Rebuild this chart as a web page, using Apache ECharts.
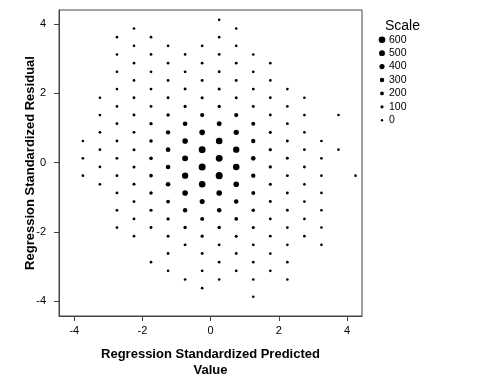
<!DOCTYPE html>
<html>
<head>
<meta charset="utf-8">
<script src="https://cdn.jsdelivr.net/npm/echarts@6/dist/echarts.min.js"></script>
<style>
  html, body { margin: 0; padding: 0; background: #fff; }
  #chart { width: 483px; height: 389px; }
</style>
</head>
<body>
<div id="chart"></div>
<script>
// Column centres of the binned predicted values
const columnPredicted = [-3.75, -3.25, -2.75, -2.25, -1.75, -1.25, -0.75, -0.25, 0.25, 0.75, 1.25, 1.75, 2.25, 2.75, 3.25, 3.75, 4.25];
// Residual bin centres in each column
const columnResiduals = [
  [0.625, 0.125, -0.375],
  [1.875, 1.375, 0.875, 0.375, -0.125, -0.625],
  [3.625, 3.125, 2.625, 2.125, 1.625, 1.125, 0.625, 0.125, -0.375, -0.875, -1.375, -1.875],
  [3.875, 3.375, 2.875, 2.375, 1.875, 1.375, 0.875, 0.375, -0.125, -0.625, -1.125, -1.625, -2.125],
  [3.625, 3.125, 2.625, 2.125, 1.625, 1.125, 0.625, 0.125, -0.375, -0.875, -1.375, -1.875, -2.875],
  [3.375, 2.875, 2.375, 1.875, 1.375, 0.875, 0.375, -0.125, -0.625, -1.125, -1.625, -2.125, -2.625, -3.125],
  [3.125, 2.625, 2.125, 1.625, 1.125, 0.625, 0.125, -0.375, -0.875, -1.375, -1.875, -2.375, -3.375],
  [3.375, 2.875, 2.375, 1.875, 1.375, 0.875, 0.375, -0.125, -0.625, -1.125, -1.625, -2.125, -2.625, -3.125, -3.625],
  [4.125, 3.625, 3.125, 2.625, 2.125, 1.625, 1.125, 0.625, 0.125, -0.375, -0.875, -1.375, -1.875, -2.375, -2.875, -3.375],
  [3.875, 3.375, 2.875, 2.375, 1.875, 1.375, 0.875, 0.375, -0.125, -0.625, -1.125, -1.625, -2.125, -2.625, -3.125],
  [3.125, 2.625, 2.125, 1.625, 1.125, 0.625, 0.125, -0.375, -0.875, -1.375, -1.875, -2.375, -2.875, -3.375, -3.875],
  [2.875, 2.375, 1.875, 1.375, 0.875, 0.375, -0.125, -0.625, -1.125, -1.625, -2.125, -2.625, -3.125],
  [2.125, 1.625, 1.125, 0.625, 0.125, -0.375, -0.875, -1.375, -1.875, -2.375, -2.875, -3.375],
  [1.875, 1.375, 0.875, 0.375, -0.125, -0.625, -1.125, -1.625, -2.125],
  [0.625, 0.125, -0.375, -0.875, -1.375, -1.875, -2.375],
  [1.375, 0.375],
  [-0.375]
];
// Case counts for each bin (same order as columnResiduals)
const columnCounts = [
  [30, 40, 40],
  [30, 40, 50, 50, 50, 40],
  [30, 30, 40, 40, 50, 60, 70, 70, 70, 60, 50, 40],
  [30, 30, 40, 50, 60, 70, 80, 90, 90, 80, 70, 60, 40],
  [40, 50, 50, 60, 70, 130, 170, 180, 180, 160, 110, 80, 40],
  [40, 50, 60, 80, 150, 280, 320, 320, 320, 200, 130, 70, 60, 40],
  [50, 60, 80, 110, 320, 460, 500, 560, 460, 280, 150, 80, 40],
  [50, 60, 80, 110, 250, 460, 640, 660, 600, 380, 220, 120, 70, 50, 40],
  [30, 40, 50, 70, 90, 130, 360, 600, 640, 660, 460, 300, 150, 80, 60, 40],
  [30, 40, 60, 70, 90, 250, 420, 560, 600, 460, 300, 180, 90, 60, 50],
  [40, 50, 70, 80, 220, 280, 320, 280, 220, 150, 100, 70, 50, 40, 30],
  [40, 50, 60, 70, 90, 120, 120, 100, 80, 70, 60, 50, 40],
  [40, 50, 60, 70, 80, 80, 70, 60, 50, 40, 40, 30],
  [40, 50, 50, 60, 60, 50, 50, 40, 40],
  [40, 40, 40, 40, 30, 30, 30],
  [30, 30],
  [30]
];
const xTickValues = [-4, -2, 0, 2, 4];
const yTickValues = [-4, -2, 0, 2, 4];
const legendValues = [600, 500, 400, 300, 200, 100, 0];

function dotSize(n) { return 2.4 + 4.2 * n / 600; }

const points = [];
columnPredicted.forEach(function (x, i) {
  columnResiduals[i].forEach(function (y, j) {
    points.push([x, y, columnCounts[i][j]]);
  });
});

const textBase = { fontFamily: 'Liberation Sans, Arial, sans-serif', color: '#000' };

const chart = echarts.init(document.getElementById('chart'), null, { renderer: 'canvas' });
chart.setOption({
  animation: false,
  backgroundColor: '#fff',
  title: {
    text: 'Scale', left: 380, top: 14,
    textStyle: Object.assign({}, textBase, { fontSize: 14, fontWeight: 'normal' })
  },
  grid: [
    { left: 59, top: 10, width: 303, height: 306, show: true, borderColor: '#444', borderWidth: 1, backgroundColor: 'transparent' },
    { left: 376, top: 33, width: 12, height: 94 }
  ],
  xAxis: [
    {
      gridIndex: 0, type: 'value', min: -4.45, max: 4.44,
      name: 'Regression Standardized Predicted\nValue', nameLocation: 'middle', nameGap: 30,
      nameMoveOverlap: false,
      nameTextStyle: Object.assign({}, textBase, { fontSize: 13, fontWeight: 'bold', lineHeight: 16 }),
      axisLine: { show: true, onZero: false, lineStyle: { color: '#444', width: 1 } },
      axisTick: { show: true, length: 5, customValues: xTickValues, lineStyle: { color: '#444' } },
      axisLabel: Object.assign({}, textBase, { fontSize: 11, margin: 9, customValues: xTickValues }),
      splitLine: { show: false }
    },
    {
      gridIndex: 1, type: 'value', min: 0, max: 1, show: false
    }
  ],
  yAxis: [
    {
      gridIndex: 0, type: 'value', min: -4.43, max: 4.41,
      name: 'Regression Standardized Residual', nameLocation: 'middle', nameGap: 22,
      nameMoveOverlap: false,
      nameTextStyle: Object.assign({}, textBase, { fontSize: 13, fontWeight: 'bold' }),
      axisLine: { show: true, onZero: false, lineStyle: { color: '#444', width: 1 } },
      axisTick: { show: true, length: 5, customValues: yTickValues, lineStyle: { color: '#444' } },
      axisLabel: Object.assign({}, textBase, { fontSize: 11, margin: 13, customValues: yTickValues }),
      splitLine: { show: false }
    },
    {
      gridIndex: 1, type: 'category', inverse: true, position: 'right',
      data: legendValues.map(String),
      axisLine: { show: false }, axisTick: { show: false }, splitLine: { show: false },
      axisLabel: Object.assign({}, textBase, { fontSize: 10.5, margin: 1, align: 'left', interval: 0 })
    }
  ],
  series: [
    {
      type: 'scatter', xAxisIndex: 0, yAxisIndex: 0,
      data: points,
      symbol: 'circle',
      symbolSize: function (v) { return dotSize(v[2]); },
      itemStyle: { color: '#000', opacity: 1 },
      silent: true
    },
    {
      type: 'scatter', xAxisIndex: 1, yAxisIndex: 1,
      data: legendValues.map(function (v) { return [0.5, String(v), v]; }),
      symbol: 'circle',
      symbolSize: function (v) { return dotSize(v[2]); },
      itemStyle: { color: '#000', opacity: 1 },
      silent: true
    }
  ]
});
</script>
</body>
</html>
